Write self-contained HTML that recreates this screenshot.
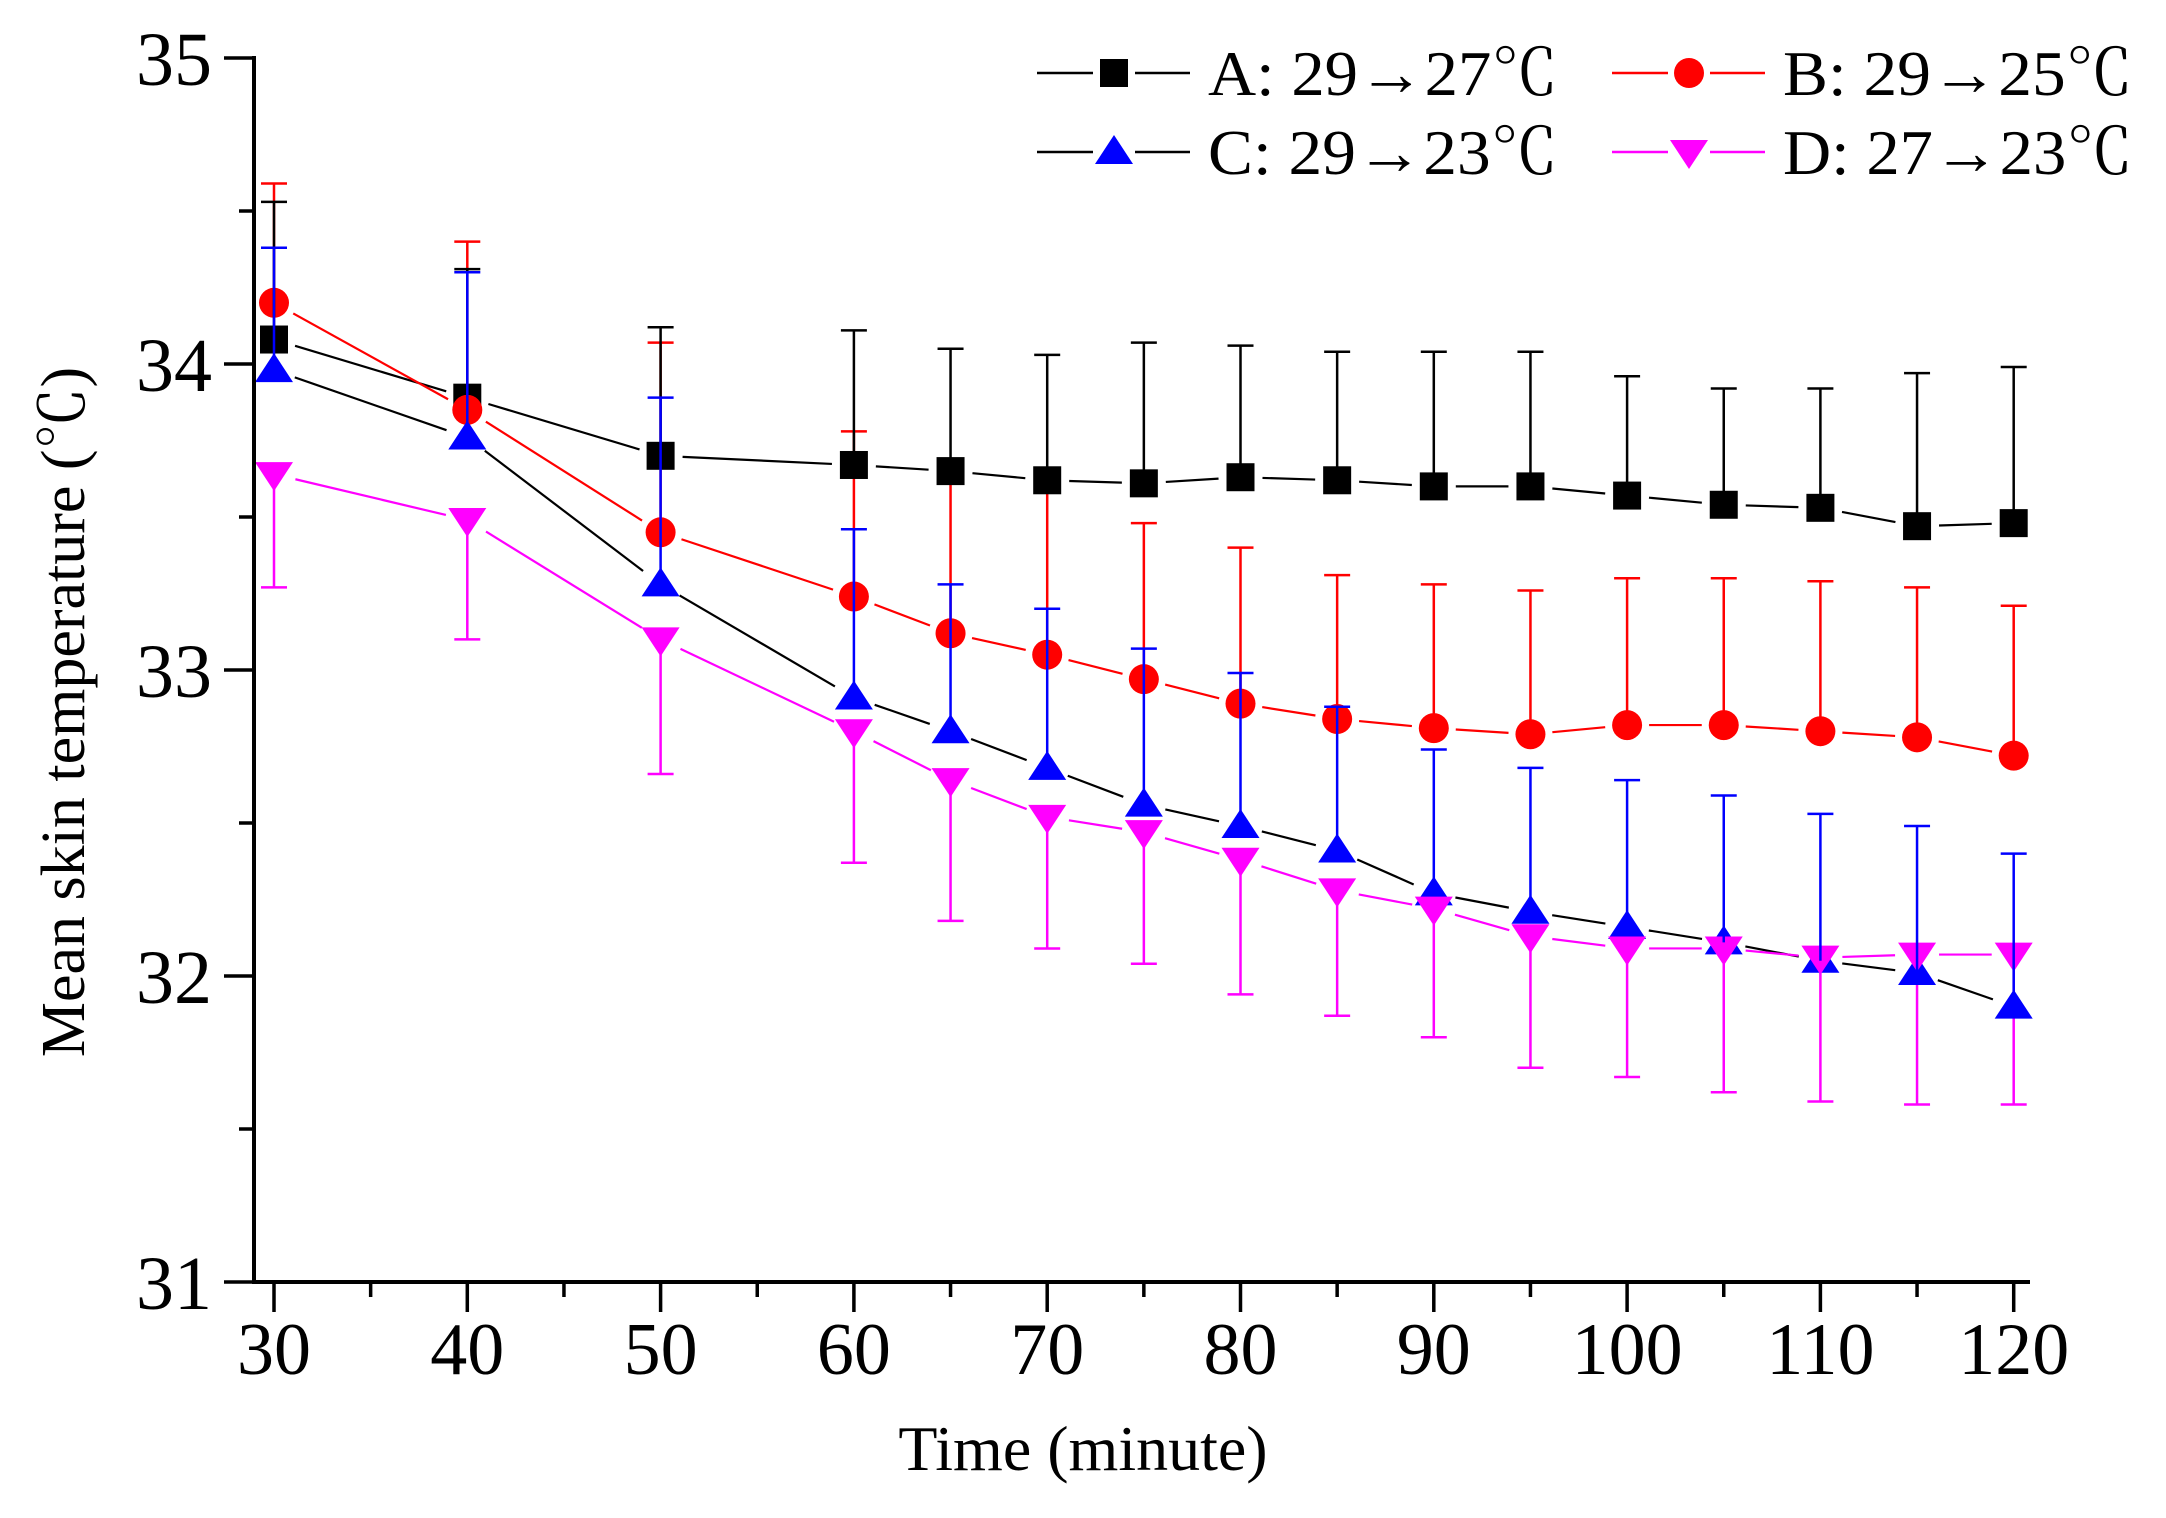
<!DOCTYPE html>
<html><head><meta charset="utf-8"><style>
html,body{margin:0;padding:0;background:#fff;}
svg{display:block;}
text{font-family:"Liberation Serif","Noto Serif CJK SC",serif;fill:#000;}
</style></head><body>
<svg id="chart" width="2166" height="1518" viewBox="0 0 2166 1518" xmlns="http://www.w3.org/2000/svg">
<g id="errs"></g>
<g id="lines"></g>
<g id="marks"></g>
<g id="errs2"></g>
<g id="axes"></g>
<g id="legend"></g>
<text x="1083" y="1470" font-size="64" text-anchor="middle">Time (minute)</text>
<text transform="translate(84,712) rotate(-90)" font-size="62" text-anchor="middle">Mean skin temperature (℃)</text>
</svg>
<script>
const times = [30,40,50,60,65,70,75,80,85,90,95,100,105,110,115,120];
const seriesA = [34.08,33.89,33.70,33.67,33.65,33.62,33.61,33.63,33.62,33.60,33.60,33.57,33.54,33.53,33.47,33.48];
const seriesAErr = [0.45,0.42,0.42,0.44,0.40,0.41,0.46,0.43,0.42,0.44,0.44,0.39,0.38,0.39,0.50,0.51];
const seriesB = [34.20,33.85,33.45,33.24,33.12,33.05,32.97,32.89,32.84,32.81,32.79,32.82,32.82,32.80,32.78,32.72];
const seriesBErr = [0.39,0.55,0.62,0.54,0.50,0.53,0.51,0.51,0.47,0.47,0.47,0.48,0.48,0.49,0.49,0.49];
const seriesC = [33.98,33.76,33.28,32.91,32.80,32.68,32.56,32.49,32.41,32.27,32.21,32.16,32.11,32.05,32.01,31.90];
const seriesCErr = [0.40,0.54,0.61,0.55,0.48,0.52,0.51,0.50,0.47,0.47,0.47,0.48,0.48,0.48,0.48,0.50];
const seriesD = [33.64,33.49,33.10,32.80,32.64,32.52,32.47,32.38,32.28,32.22,32.13,32.09,32.09,32.06,32.07,32.07];
const seriesDErr = [0.37,0.39,0.44,0.43,0.46,0.43,0.43,0.44,0.41,0.42,0.43,0.42,0.47,0.47,0.49,0.49];
const xTicks = [30,40,50,60,70,80,90,100,110,120];
const yTicks = [31,32,33,34,35];

const NS='http://www.w3.org/2000/svg';
const X0=254, X1=2030, Y0=1282;
function xs(t){return 274+(t-30)*19.33;}
function ys(v){return 1282-(v-31)*306;}
function mk(tag,attrs,parent){const e=document.createElementNS(NS,tag);for(const k in attrs)e.setAttribute(k,attrs[k]);parent.appendChild(e);return e;}
const gErr=document.getElementById('errs'), gLines=document.getElementById('lines'), gMarks=document.getElementById('marks'), gAx=document.getElementById('axes'), gLeg=document.getElementById('legend'), gErr2=document.getElementById('errs2');

function marker(type,cx,cy,color,parent){
  let e;
  if(type==='square'){e=mk('rect',{x:cx-14,y:cy-14,width:28,height:28,fill:color},parent);}
  else if(type==='circle'){e=mk('ellipse',{cx:cx,cy:cy,rx:15,ry:15,fill:color},parent);}
  else if(type==='up'){e=mk('polygon',{points:`${cx-19},${cy+12} ${cx+19},${cy+12} ${cx},${cy-17}`,fill:color},parent);}
  else {e=mk('polygon',{points:`${cx-19},${cy-12} ${cx+19},${cy-12} ${cx},${cy+17}`,fill:color},parent);}
  return e;
}
const series=[
  {name:'a',vals:seriesA,err:seriesAErr,dir:-1,color:'#000',line:'#000',m:'square'},
  {name:'b',vals:seriesB,err:seriesBErr,dir:-1,color:'#ff0000',line:'#ff0000',m:'circle'},
  {name:'c',vals:seriesC,err:seriesCErr,dir:-1,color:'#0000ff',line:'#000',m:'up'},
  {name:'d',vals:seriesD,err:seriesDErr,dir:1,color:'#ff00ff',line:'#ff00ff',m:'down'}
];
series.forEach(s=>{
  for(let i=0;i<times.length;i++){
    const cx=xs(times[i]), cy=ys(s.vals[i]);
    const ey=ys(s.vals[i]-s.dir*s.err[i]);
    const par=(s.name==='c'||s.name==='a')?gErr2:gErr;
    const l=mk('line',{x1:cx,y1:cy,x2:cx,y2:ey,stroke:s.color,'stroke-width':2.5},par);
    
    
    const c=mk('line',{x1:cx-13,y1:ey,x2:cx+13,y2:ey,stroke:s.color,'stroke-width':2.5},par);
    
    
  }
  for(let i=0;i<times.length-1;i++){
    const ax=xs(times[i]),ay=ys(s.vals[i]),bx=xs(times[i+1]),by=ys(s.vals[i+1]);
    const dx=bx-ax,dy=by-ay,L=Math.hypot(dx,dy),g=Math.min(22,L*0.3);
    const seg=mk('line',{x1:ax+dx/L*g,y1:ay+dy/L*g,x2:bx-dx/L*g,y2:by-dy/L*g,stroke:s.line,'stroke-width':2.2},gLines);
    
    
  }
  for(let i=0;i<times.length;i++){
    const e=marker(s.m,xs(times[i]),ys(s.vals[i]),s.color,gMarks);
    
    
  }
});
// axes
let a=mk('line',{x1:X0,y1:Y0,x2:X1,y2:Y0,stroke:'#000','stroke-width':4},gAx);


a=mk('line',{x1:X0,y1:Y0+2,x2:X0,y2:56,stroke:'#000','stroke-width':4},gAx);


for(let t=30;t<=120;t+=5){
  const major=xTicks.indexOf(t)>=0;
  const tk=mk('line',{x1:xs(t),y1:Y0,x2:xs(t),y2:Y0+(major?30:15),stroke:'#000','stroke-width':3.5},gAx);
  
  
}
xTicks.forEach(t=>{
  const tx=mk('text',{x:xs(t),y:1374,'font-size':74,'text-anchor':'middle'},gAx);
  tx.textContent=t;
  
  
});
for(let v=31;v<=35.001;v+=0.5){
  const major=Math.abs(v-Math.round(v))<0.01;
  const tk=mk('line',{x1:X0,y1:ys(v),x2:X0-(major?30:15),y2:ys(v),stroke:'#000','stroke-width':3.5},gAx);
  
  
}
yTicks.forEach(v=>{
  const tx=mk('text',{x:212,y:ys(v)+27,'font-size':76,'text-anchor':'end'},gAx);
  tx.textContent=v;
  
  
});
// legend
const legendLabels=['A: 29→27℃','B: 29→25℃','C: 29→23℃','D: 27→23℃'];
const legPos=[[1037,73],[1612,73],[1037,152],[1612,152]];
series.forEach((s,i)=>{
  const [lx,ly]=legPos[i];
  const ln=mk('line',{x1:lx,y1:ly,x2:lx+153,y2:ly,stroke:s.line,'stroke-width':2.5},gLeg);
  
  
  mk('rect',{x:lx+56,y:ly-20,width:42,height:40,fill:'#fff'},gLeg);
  const m=marker(s.m,lx+77,ly,s.color,gLeg);
  
  
  const tx=mk('text',{x:lx+171,y:ly+22,'font-size':64,textLength:350,lengthAdjust:'spacingAndGlyphs'},gLeg);
  tx.textContent=legendLabels[i];
  
  
});
</script>
</body></html>
